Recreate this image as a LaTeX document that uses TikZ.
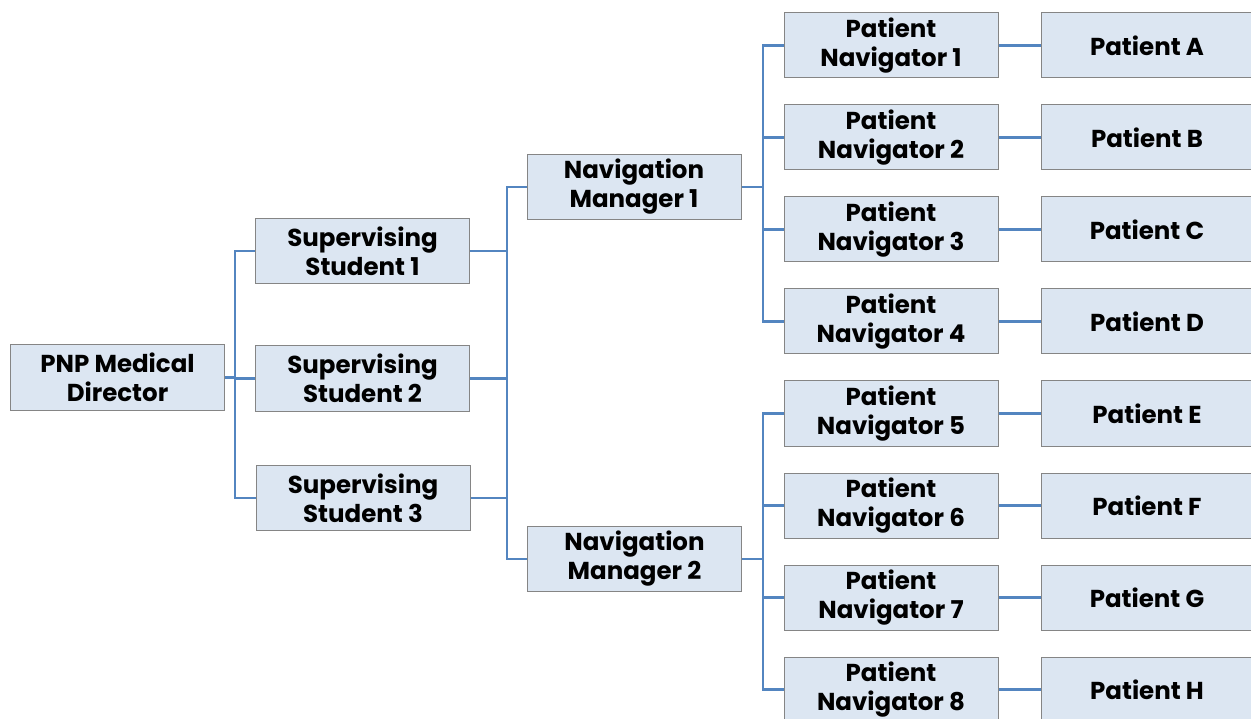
\documentclass[tikz,border=0pt]{standalone}
\usepackage{fontspec}
\setmainfont{Poppins}
\usetikzlibrary{positioning}
\definecolor{boxfill}{HTML}{DCE6F2}
\definecolor{boxline}{HTML}{858585}
\definecolor{linkblue}{HTML}{5385C0}
\tikzset{
	unit/.style={draw=boxline, fill=boxfill, line width=1pt, minimum width=214pt, minimum height=65pt, inner sep=0pt, align=center, font=\fontsize{24.5}{29}\selectfont\bfseries},
	link/.style={draw=linkblue, line width=2.8pt}
}
\begin{document}
\begin{tikzpicture}[x=1pt, y=-1pt]
			\useasboundingbox (0,0) rectangle (1251,719);
			\node[unit] (director) at (117.5,377.5) {PNP Medical\\Director};
			\node[unit] (student1) at (362.5,251) {Supervising\\Student 1};
			\node[unit] (student2) at (362.5,378.5) {Supervising\\Student 2};
			\node[unit] (student3) at (363,498) {Supervising\\Student 3};
			\node[unit] (manager1) at (634,187) {Navigation\\Manager 1};
			\node[unit] (manager2) at (634.5,559) {Navigation\\Manager 2};
			\foreach \i/\p in {1/A,2/B,3/C,4/D,5/E,6/F,7/G,8/H} {
				\pgfmathsetmacro\rowy{45.5+92*(\i-1)}
				\node[unit] (navigator\i) at (891,\rowy) {Patient\\Navigator \i};
				\node[unit, minimum width=212pt] (patient\p) at (1147,\rowy) {Patient \p};
				\draw[link, line width=2.2pt] (navigator\i.east) -- (patient\p.west);
			}
			\coordinate (busA) at (235,0);
			\coordinate (busB) at (507,0);
			\coordinate (busC) at (763,0);
			\draw[link] (director.east) -- (director.east -| busA);
			\foreach \s in {1,2,3}
				\draw[link] (student\s.west) -| (busA |- director.east);
			\foreach \s in {1,2,3}
				\draw[link] (student\s.east) -- (student\s.east -| busB);
			\draw[link] (manager1.west) -| (busB |- manager1.west) |- (manager2.west);
			\foreach \n in {1,2,3,4}
				\draw[link] (manager1.east) -| (busC |- manager1.east) |- (navigator\n.west);
			\foreach \n in {5,6,7,8}
				\draw[link] (manager2.east) -| (busC |- manager2.east) |- (navigator\n.west);
		\end{tikzpicture}
\end{document}
